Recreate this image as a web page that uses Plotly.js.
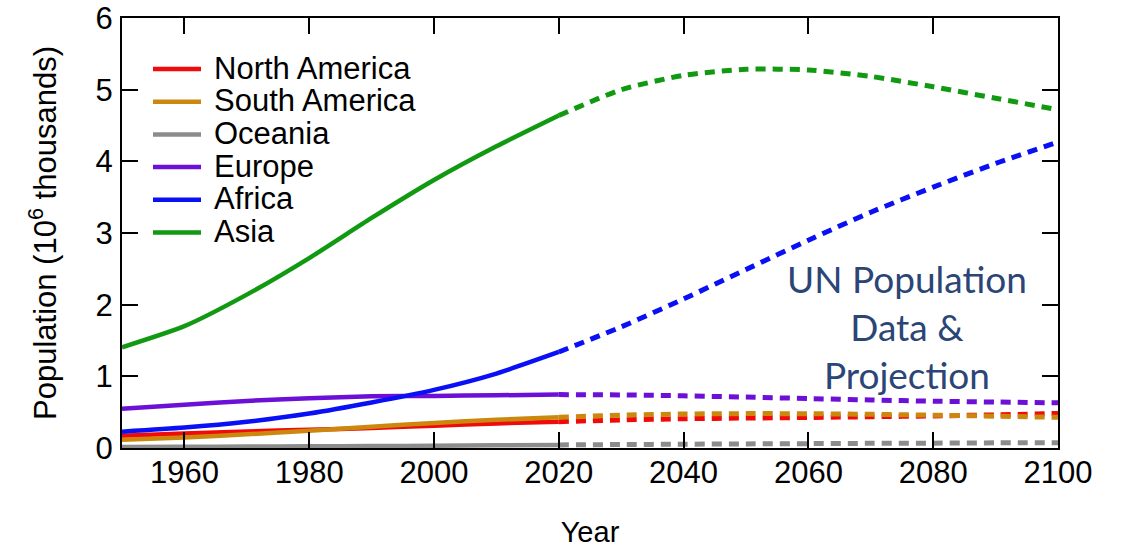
<!DOCTYPE html>
<html>
<head>
<meta charset="utf-8">
<script src="https://cdn.plot.ly/plotly-3.0.1.min.js"></script>
<style>
  html, body { margin: 0; padding: 0; background: #ffffff; }
  #chart { width: 1122px; height: 548px; }
</style>
</head>
<body>
<div id="chart"></div>
<script>
// Population by continent, in 10^6 thousands (billions).
// Solid = recorded data 1950-2020, dashed = projection 2020-2100.
const regions = ["North America", "South America", "Oceania", "Europe", "Africa", "Asia"];
const colors  = ["#f00a0a", "#cc880e", "#8c8c8c", "#6c10d8", "#0a10f5", "#119a11"];

const histYears = [1950, 1960, 1970, 1980, 1990, 2000, 2010, 2020];
const projYears = [2020, 2030, 2040, 2050, 2060, 2070, 2080, 2090, 2100];

const northAmericaHist = [0.172, 0.204, 0.231, 0.254, 0.280, 0.312, 0.343, 0.368];
const northAmericaProj = [0.368, 0.392, 0.408, 0.418, 0.426, 0.436, 0.448, 0.462, 0.482];

const southAmericaHist = [0.114, 0.147, 0.191, 0.242, 0.297, 0.349, 0.393, 0.428];
const southAmericaProj = [0.428, 0.458, 0.474, 0.480, 0.478, 0.470, 0.458, 0.444, 0.428];

const oceaniaHist = [0.013, 0.016, 0.020, 0.023, 0.027, 0.031, 0.037, 0.043];
const oceaniaProj = [0.043, 0.048, 0.053, 0.057, 0.061, 0.065, 0.068, 0.072, 0.075];

const europeHist = [0.549, 0.605, 0.657, 0.694, 0.721, 0.726, 0.736, 0.745];
const europeProj = [0.745, 0.741, 0.728, 0.710, 0.690, 0.670, 0.653, 0.641, 0.630];

const africaHist = [0.228, 0.285, 0.366, 0.481, 0.635, 0.811, 1.039, 1.340];
const africaProj = [1.340, 1.690, 2.080, 2.490, 2.900, 3.290, 3.640, 3.970, 4.270];

const asiaHist = [1.405, 1.700, 2.140, 2.650, 3.210, 3.740, 4.210, 4.640];
const asiaProj = [4.640, 5.000, 5.200, 5.285, 5.275, 5.185, 5.040, 4.880, 4.720];

const histSeries = [northAmericaHist, southAmericaHist, oceaniaHist, europeHist, africaHist, asiaHist];
const projSeries = [northAmericaProj, southAmericaProj, oceaniaProj, europeProj, africaProj, asiaProj];

// Plot-area geometry in pixels
const W = 1122, H = 548;
const PL = 122, PR = 1058, PT = 18, PB = 448;
const px = x => (x - PL) / (PR - PL);
const py = y => (PB - y) / (PB - PT);

const FONT = "Liberation Sans, Arial, Helvetica, sans-serif";

const traces = [];
regions.forEach((name, i) => {
  traces.push({
    x: histYears, y: histSeries[i], name: name, mode: "lines",
    line: { color: colors[i], width: 4.5, shape: "spline", smoothing: 0.6 },
    showlegend: false, hoverinfo: "x+y+name"
  });
  traces.push({
    x: projYears, y: projSeries[i], name: name + " (projection)", mode: "lines",
    line: { color: colors[i], width: 5, dash: "10px,7px", shape: "spline", smoothing: 0.6 },
    showlegend: false, hoverinfo: "x+y+name"
  });
});

// Legend drawn as line samples + labels
const legendY = [69, 101.7, 134.4, 167.1, 199.8, 232.5];
const shapes = regions.map((name, i) => ({
  type: "line", xref: "paper", yref: "paper",
  x0: px(153), x1: px(201), y0: py(legendY[i]), y1: py(legendY[i]),
  line: { color: colors[i], width: 4.5 }
}));
const annotations = regions.map((name, i) => ({
  xref: "paper", yref: "paper", x: px(212), y: py(legendY[i] - 1),
  xanchor: "left", yanchor: "middle", showarrow: false,
  text: name, font: { family: FONT, size: 31, color: "#000000" }
}));
annotations.push({
  xref: "paper", yref: "paper", x: px(907), y: py(326),
  xanchor: "center", yanchor: "middle", showarrow: false,
  text: "UN Population<br>Data &amp;<br>Projection",
  font: { family: "Lato, Noto Sans, sans-serif", size: 37, color: "#2b4577" }
});

const axisCommon = {
  showline: true, linecolor: "#000000", linewidth: 2, mirror: "ticks",
  ticks: "inside", ticklen: 16, tickwidth: 2, tickcolor: "#000000",
  showgrid: false, zeroline: false, automargin: false,
  tickfont: { family: FONT, size: 31, color: "#000000" }
};

const layout = {
  width: W, height: H,
  margin: { l: PL, r: W - PR, t: PT, b: H - PB, pad: 0 },
  paper_bgcolor: "#ffffff", plot_bgcolor: "#ffffff",
  showlegend: false,
  xaxis: Object.assign({}, axisCommon, {
    range: [1950, 2100], tick0: 1960, dtick: 20, ticklabelstandoff: -4,
    title: { text: "Year", font: { family: FONT, size: 29, color: "#000000" }, standoff: 34 }
  }),
  yaxis: Object.assign({}, axisCommon, {
    range: [0, 6], tick0: 0, dtick: 1, ticklabelstandoff: 1,
    title: { text: "Population (10<sup>6</sup> thousands)", font: { family: FONT, size: 31, color: "#000000" }, standoff: 30 }
  }),
  shapes: shapes,
  annotations: annotations
};

Plotly.newPlot("chart", traces, layout, { staticPlot: true, displayModeBar: false });
</script>
</body>
</html>
